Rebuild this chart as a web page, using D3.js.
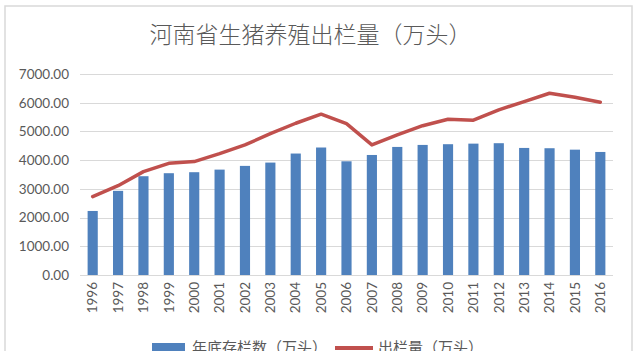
<!DOCTYPE html>
<html>
<head>
<meta charset="utf-8">
<script src="https://cdn.jsdelivr.net/npm/d3@7"></script>
<style>
  html, body { margin: 0; padding: 0; background: #fff; overflow: hidden; }
  svg { display: block; }
</style>
</head>
<body>
<div id="chart"></div>
<script>
const title = "河南省生猪养殖出栏量（万头）";
const years = ["1996","1997","1998","1999","2000","2001","2002","2003","2004","2005","2006","2007","2008","2009","2010","2011","2012","2013","2014","2015","2016"];
const stock = [2230, 2930, 3440, 3545, 3580, 3670, 3800, 3915, 4230, 4440, 3960, 4180, 4460, 4530, 4555, 4575, 4590, 4425, 4415, 4365, 4285];
const output = [2730, 3110, 3600, 3890, 3950, 4225, 4530, 4920, 5285, 5600, 5270, 4530, 4880, 5200, 5425, 5390, 5750, 6040, 6330, 6190, 6015];
const seriesNames = ["年底存栏数（万头）", "出栏量（万头）"];
const yTicks = [0, 1000, 2000, 3000, 4000, 5000, 6000, 7000];

const W = 640, H = 351;
const svg = d3.select("#chart").append("svg").attr("width", W).attr("height", H);

// chart frame
svg.append("rect").attr("x", 5).attr("y", 6).attr("width", 627).attr("height", 360)
  .attr("fill", "#fff").attr("stroke", "#d9d9d9").attr("stroke-width", 1.5);

const x = d3.scaleBand().domain(years).range([80, 613]).paddingInner(0.6).paddingOuter(0.3);
const y = d3.scaleLinear().domain([0, 7000]).range([275, 74]);

const textColor = "#595959";
const numFont = "Lato, 'Open Sans', sans-serif";

// gridlines
svg.append("g").selectAll("line").data(yTicks).join("line")
  .attr("x1", 80).attr("x2", 613)
  .attr("y1", d => Math.round(y(d)) + 0.5).attr("y2", d => Math.round(y(d)) + 0.5)
  .attr("stroke", "#d9d9d9").attr("stroke-width", 1);

// y axis labels
const yAxis = d3.axisLeft(y).tickValues(yTicks).tickFormat(d3.format(".2f")).tickSize(0).tickPadding(0);
const gy = svg.append("g").attr("transform", "translate(69,0)").call(yAxis);
gy.select(".domain").remove();
gy.selectAll("text").attr("fill", textColor).attr("font-family", numFont).attr("font-size", "13.5px");

// bars
svg.append("g").selectAll("rect").data(years).join("rect")
  .attr("x", d => x(d)).attr("width", x.bandwidth())
  .attr("y", (d, i) => y(stock[i])).attr("height", (d, i) => y(0) - y(stock[i]))
  .attr("fill", "#4f81bd");

// line
const line = d3.line().x((d, i) => x(years[i]) + x.bandwidth() / 2).y(d => y(d));
svg.append("path").datum(output).attr("d", line)
  .attr("fill", "none").attr("stroke", "#c0504d").attr("stroke-width", 3.5)
  .attr("stroke-linejoin", "round").attr("stroke-linecap", "round");

// x axis
const xAxis = d3.axisBottom(x).tickSize(0).tickPadding(0);
const gx = svg.append("g").attr("transform", "translate(0,275)").call(xAxis);
gx.select(".domain").attr("stroke", "#d9d9d9").attr("d", "M80,0.5H613");
gx.selectAll("text")
  .attr("fill", textColor).attr("font-family", numFont).attr("font-size", "13.5px")
  .attr("text-anchor", "end").attr("dy", "0.35em")
  .attr("transform", "translate(0,7) rotate(-90)")
  .attr("x", 0).attr("y", 0);

// title
svg.append("text").attr("x", 310.5).attr("y", 43).attr("text-anchor", "middle")
  .attr("font-family", "'Noto Sans CJK SC', sans-serif").attr("font-weight", 300)
  .attr("font-size", "23px").attr("fill", textColor).text(title);

// legend
const lg = svg.append("g");
lg.append("rect").attr("x", 152).attr("y", 343).attr("width", 33).attr("height", 10).attr("fill", "#4f81bd");
lg.append("text").attr("x", 192).attr("y", 353).attr("font-family", "'Noto Sans CJK SC', sans-serif")
  .attr("font-size", "15px").attr("fill", textColor).text(seriesNames[0]);
lg.append("line").attr("x1", 335).attr("x2", 373).attr("y1", 348).attr("y2", 348)
  .attr("stroke", "#c0504d").attr("stroke-width", 4);
lg.append("text").attr("x", 378).attr("y", 353).attr("font-family", "'Noto Sans CJK SC', sans-serif")
  .attr("font-size", "15px").attr("fill", textColor).text(seriesNames[1]);
</script>
</body>
</html>
